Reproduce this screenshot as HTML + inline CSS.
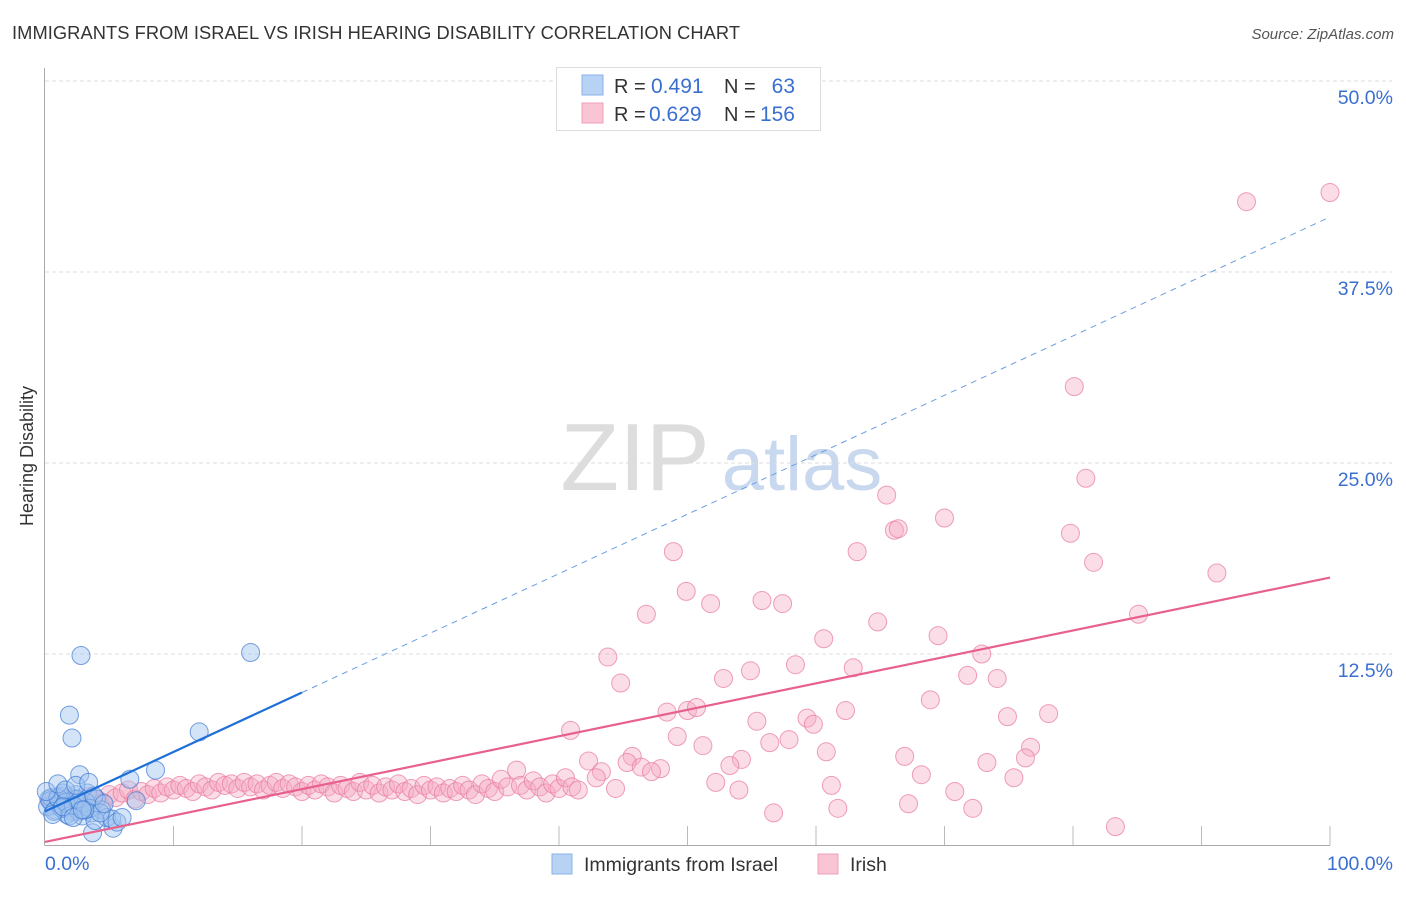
<!DOCTYPE html>
<html><head><meta charset="utf-8"><style>
body{margin:0;background:#fff;font-family:"Liberation Sans",sans-serif;}
svg text{font-family:"Liberation Sans",sans-serif;}
</style></head><body>
<svg id="chart" width="1406" height="892" xmlns="http://www.w3.org/2000/svg">
<text x="12" y="39" font-size="18.3" fill="#333" textLength="728">IMMIGRANTS FROM ISRAEL VS IRISH HEARING DISABILITY CORRELATION CHART</text>
<text x="1394" y="39" font-size="15" fill="#555" text-anchor="end" font-style="italic">Source: ZipAtlas.com</text>
<text x="33" y="456" font-size="18" fill="#333" text-anchor="middle" transform="rotate(-90 33 456)">Hearing Disability</text>
<g><text x="635" y="490" font-size="96" fill="#ddd" font-family="Liberation Serif" text-anchor="middle">ZIP</text><text x="802" y="490" font-size="76" fill="#c8d8ee" text-anchor="middle">atlas</text></g>
<g id="grid"></g><g id="axes"></g><g id="pts"></g><g id="lines"></g>
<g>
<rect x="556.5" y="67.5" width="264" height="63" fill="#fff" stroke="#ddd"/>
<rect x="582" y="75" width="21" height="20" fill="#b8d2f4" stroke="#8ab2e8"/>
<rect x="582" y="103" width="21" height="20" fill="#f9c4d3" stroke="#f0a0b8"/>
<text x="614" y="93" font-size="20" fill="#333">R =</text><text x="651" y="93" font-size="21" fill="#3a6fd0">0.491</text>
<text x="724" y="93" font-size="20" fill="#333">N =</text><text x="795" y="93" font-size="21" fill="#3a6fd0" text-anchor="end">63</text>
<text x="614" y="121" font-size="20" fill="#333">R =</text><text x="649" y="121" font-size="21" fill="#3a6fd0">0.629</text>
<text x="724" y="121" font-size="20" fill="#333">N =</text><text x="795" y="121" font-size="21" fill="#3a6fd0" text-anchor="end">156</text>
</g>
<g>
<rect x="552" y="854" width="20" height="20" fill="#b8d2f4" stroke="#8ab2e8"/>
<text x="584" y="871" font-size="19.5" fill="#333">Immigrants from Israel</text>
<rect x="818" y="854" width="20" height="20" fill="#f9c4d3" stroke="#f0a0b8"/>
<text x="850" y="871" font-size="19.5" fill="#333">Irish</text>
</g>
</svg>
<script>
const yTicks=[12.5,25,37.5,50];
const yTickLabels=["12.5%","25.0%","37.5%","50.0%"];
const xTickLabels=["0.0%","100.0%"];
const blueX=[2.8,16.0,1.9,2.1,12.0,8.6,2.7,6.6,7.1,3.7,5.3,0.3,0.6,0.9,1.2,1.5,1.8,2.1,2.4,2.7,3.0,3.3,3.6,4.0,4.4,4.8,5.2,0.2,0.5,0.8,1.1,1.4,1.7,2.0,2.3,2.6,2.9,3.2,3.5,3.9,4.3,0.4,0.7,1.0,1.3,1.6,1.9,2.2,2.5,3.1,3.8,4.6,5.6,6.0,0.1,1.0,1.6,2.4,3.4,0.6,1.4,2.2,2.9];
const blueY=[12.4,12.6,8.5,7.0,7.4,4.9,4.6,4.3,2.9,0.8,1.1,3.0,2.6,2.9,3.2,2.4,2.8,2.2,3.3,2.5,2.7,3.4,2.1,3.0,2.3,1.8,1.7,2.5,3.1,2.3,2.7,3.4,2.0,2.6,3.0,2.2,1.9,2.8,2.4,1.6,2.1,2.9,2.2,3.1,2.4,2.8,1.9,2.6,3.0,2.3,3.2,2.7,1.5,1.8,3.5,4.0,3.6,3.9,4.1,2.0,2.5,1.8,2.3];
const pinkX=[93.5,100,80.1,65.5,81.0,66.1,66.4,70.0,48.9,63.2,79.8,81.6,91.2,49.9,51.8,55.8,57.4,46.8,85.1,64.8,60.6,69.5,43.8,72.9,54.9,58.4,62.9,44.8,52.8,71.8,74.1,68.9,48.4,50.0,50.7,62.3,74.9,78.1,59.3,59.8,40.9,55.4,49.2,51.2,56.4,57.9,60.8,76.7,76.3,66.9,45.7,45.3,42.3,46.4,47.9,47.2,54.2,53.3,73.3,68.2,75.4,43.3,42.9,36.7,61.2,52.2,54.0,70.8,44.4,67.2,61.7,72.2,56.7,83.3,
0.5,1.0,1.5,2.0,2.5,3.0,3.5,4.0,4.5,5.0,5.5,6.0,6.5,7.0,7.5,8.0,8.5,9.0,9.5,10.0,10.5,11.0,11.5,12.0,12.5,13.0,13.5,14.0,14.5,15.0,15.5,16.0,16.5,17.0,17.5,18.0,18.5,19.0,19.5,20.0,20.5,21.0,21.5,22.0,22.5,23.0,23.5,24.0,24.5,25.0,25.5,26.0,26.5,27.0,27.5,28.0,28.5,29.0,29.5,30.0,30.5,31.0,31.5,32.0,32.5,33.0,33.5,34.0,34.5,35.0,35.5,36.0,37.0,37.5,38.0,38.5,39.0,39.5,40.0,40.5,41.0,41.5];
const pinkY=[42.1,42.7,30.0,22.9,24.0,20.6,20.7,21.4,19.2,19.2,20.4,18.5,17.8,16.6,15.8,16.0,15.8,15.1,15.1,14.6,13.5,13.7,12.3,12.5,11.4,11.8,11.6,10.6,10.9,11.1,10.9,9.5,8.7,8.8,9.0,8.8,8.4,8.6,8.3,7.9,7.5,8.1,7.1,6.5,6.7,6.9,6.1,6.4,5.7,5.8,5.8,5.4,5.5,5.1,5.0,4.8,5.6,5.2,5.4,4.6,4.4,4.8,4.4,4.9,3.9,4.1,3.6,3.5,3.7,2.7,2.4,2.4,2.1,1.2,
2.8,3.0,2.6,3.1,2.9,2.7,3.2,3.0,2.8,3.3,3.1,3.4,3.6,3.0,3.5,3.3,3.7,3.4,3.8,3.6,3.9,3.7,3.5,4.0,3.8,3.6,4.1,3.9,4.0,3.7,4.1,3.8,4.0,3.6,3.9,4.1,3.7,4.0,3.8,3.5,3.9,3.6,4.0,3.8,3.4,3.9,3.7,3.5,4.1,3.6,3.9,3.4,3.8,3.6,4.0,3.5,3.7,3.3,3.9,3.6,3.8,3.4,3.7,3.5,3.9,3.6,3.3,4.0,3.7,3.5,4.3,3.8,3.9,3.6,4.2,3.8,3.4,4.0,3.7,4.4,3.8,3.6];
const blueFit=[2.2,41.1];
const pinkFit=[0.2,17.5];
const X=v=>45+v*12.85, Y=v=>845-v*15.28;
const NS="http://www.w3.org/2000/svg";
function mk(tag,attrs,parent){const e=document.createElementNS(NS,tag);for(const k in attrs)e.setAttribute(k,attrs[k]);parent.appendChild(e);return e;}
const grid=document.getElementById('grid'),axes=document.getElementById('axes'),pts=document.getElementById('pts'),lines=document.getElementById('lines');
yTicks.forEach((t,i)=>{
 const l=mk('line',{x1:45,x2:1392,y1:Y(t),y2:Y(t),stroke:'#ddd','stroke-dasharray':'4 3'},grid);
 
 
 const tx=mk('text',{x:1393,y:Y(t)+23,'font-size':19.5,fill:'#3a6fd0','text-anchor':'end'},axes);
 tx.textContent=yTickLabels[i];
 
 
});
let a=mk('line',{x1:44.5,x2:44.5,y1:68,y2:845,stroke:'#aaa'},axes);


a=mk('line',{x1:44.5,x2:1330,y1:845.5,y2:845.5,stroke:'#aaa'},axes);


for(let i=1;i<=10;i++){const t=mk('line',{x1:X(i*10),x2:X(i*10),y1:826,y2:845,stroke:'#bbb'},axes);
 
 }
let t1=mk('text',{x:45,y:870,'font-size':19.5,fill:'#3a6fd0'},axes);t1.textContent=xTickLabels[0];


let t2=mk('text',{x:1393,y:870,'font-size':19.5,fill:'#3a6fd0','text-anchor':'end'},axes);t2.textContent=xTickLabels[1];


pinkX.forEach((x,i)=>{const c=mk('circle',{cx:X(x),cy:Y(pinkY[i]),r:9,fill:'rgba(246,170,195,0.4)',stroke:'rgba(232,120,155,0.7)','stroke-width':1},pts);
 
 });
blueX.forEach((x,i)=>{const c=mk('circle',{cx:X(x),cy:Y(blueY[i]),r:9,fill:'rgba(160,195,240,0.45)',stroke:'rgba(60,120,210,0.7)','stroke-width':1},pts);
 
 });
const bAt=x=>blueFit[0]+(blueFit[1]-blueFit[0])*x/100;
let l=mk('line',{x1:X(0),y1:Y(bAt(0)),x2:X(20),y2:Y(bAt(20)),stroke:'#1f6fd8','stroke-width':2.2},lines);


l=mk('line',{x1:X(20),y1:Y(bAt(20)),x2:X(100),y2:Y(bAt(100)),stroke:'#6a9ee0','stroke-width':1,'stroke-dasharray':'6 5'},lines);


l=mk('line',{x1:X(0),y1:Y(pinkFit[0]),x2:X(100),y2:Y(pinkFit[1]),stroke:'#e8608c','stroke-width':2.2},lines);


</script>
</body></html>
